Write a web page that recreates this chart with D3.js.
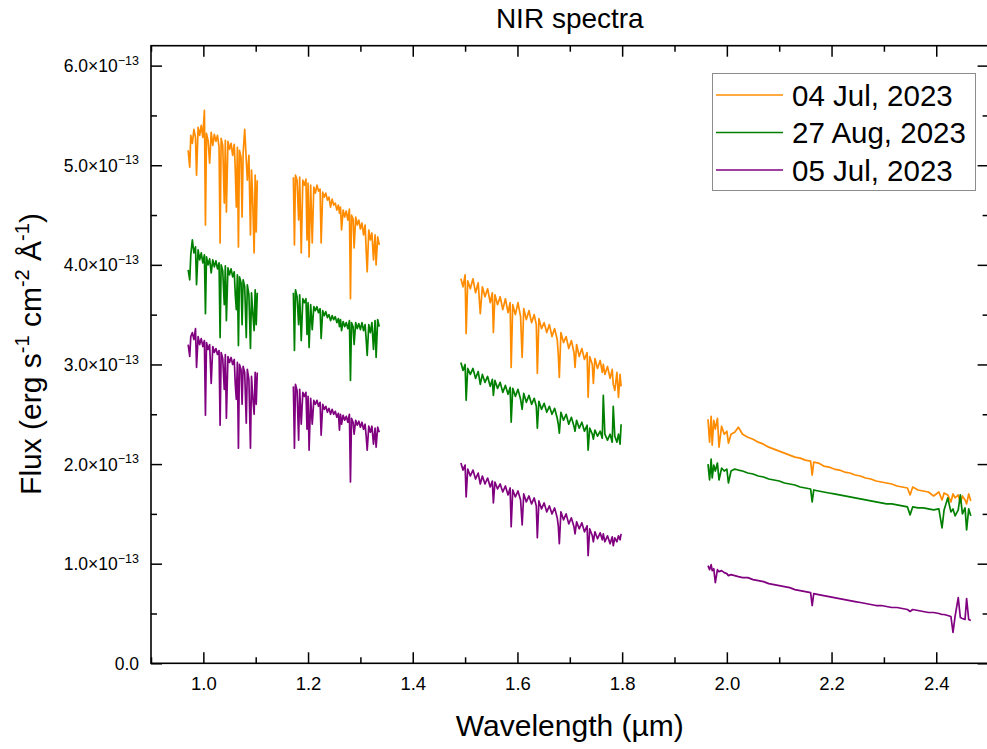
<!DOCTYPE html>
<html>
<head>
<meta charset="utf-8">
<script src="https://cdn.jsdelivr.net/npm/d3@7"></script>
<style>
  body { margin: 0; background: #fff; }
  svg { display: block; font-family: "Liberation Sans", Arial, sans-serif; }
</style>
</head>
<body>
<svg id="chart" width="987" height="749"></svg>
<script>
// Series names and colours (legend order)
var seriesNames = ["04 Jul, 2023", "27 Aug, 2023", "05 Jul, 2023"];
var seriesColors = ["#ff8c00", "#008000", "#800080"];

// Axis ticks
var xTicks = [1.0, 1.2, 1.4, 1.6, 1.8, 2.0, 2.2, 2.4];
var xMinorTicks = [0.9, 1.1, 1.3, 1.5, 1.7, 1.9, 2.1, 2.3, 2.5];
var yTicks = [0, 1, 2, 3, 4, 5, 6];          // units of 1e-13
var yMinorTicks = [0.5, 1.5, 2.5, 3.5, 4.5, 5.5];

// Wavelengths (um) for each of the four bands
var seg1Wave = [0.971, 0.974, 0.976, 0.979, 0.982, 0.985, 0.987, 0.990, 0.993, 0.996, 0.999, 1.002, 1.004, 1.006, 1.009, 1.012, 1.015, 1.018, 1.021, 1.024, 1.027, 1.030, 1.032, 1.034, 1.037, 1.040, 1.042, 1.044, 1.047, 1.050, 1.053, 1.056, 1.059, 1.061, 1.063, 1.065, 1.067, 1.069, 1.072, 1.074, 1.076, 1.079, 1.082, 1.084, 1.087, 1.090, 1.092, 1.094, 1.097, 1.099, 1.101, 1.103];
var seg2Wave = [1.172, 1.174, 1.176, 1.179, 1.182, 1.184, 1.187, 1.190, 1.193, 1.196, 1.198, 1.200, 1.202, 1.205, 1.208, 1.211, 1.214, 1.217, 1.220, 1.223, 1.225, 1.228, 1.231, 1.234, 1.237, 1.240, 1.243, 1.246, 1.249, 1.252, 1.255, 1.258, 1.260, 1.262, 1.264, 1.267, 1.270, 1.273, 1.276, 1.279, 1.281, 1.283, 1.286, 1.288, 1.291, 1.294, 1.297, 1.300, 1.303, 1.306, 1.309, 1.311, 1.313, 1.316, 1.319, 1.322, 1.325, 1.328, 1.330, 1.333, 1.336];
var seg3Wave = [1.492, 1.496, 1.500, 1.502, 1.505, 1.510, 1.515, 1.520, 1.525, 1.529, 1.533, 1.538, 1.543, 1.548, 1.552, 1.554, 1.557, 1.562, 1.567, 1.572, 1.577, 1.582, 1.586, 1.588, 1.591, 1.596, 1.601, 1.606, 1.609, 1.612, 1.617, 1.622, 1.627, 1.632, 1.636, 1.638, 1.641, 1.646, 1.651, 1.656, 1.661, 1.666, 1.671, 1.676, 1.678, 1.680, 1.683, 1.688, 1.693, 1.698, 1.703, 1.708, 1.710, 1.713, 1.718, 1.723, 1.728, 1.733, 1.735, 1.738, 1.743, 1.745, 1.748, 1.753, 1.758, 1.762, 1.764, 1.767, 1.772, 1.777, 1.781, 1.783, 1.786, 1.790, 1.793, 1.796, 1.798];
var seg4Wave = [1.964, 1.967, 1.970, 1.972, 1.975, 1.978, 1.982, 1.985, 1.990, 1.995, 2.000, 2.003, 2.008, 2.015, 2.022, 2.030, 2.040, 2.050, 2.060, 2.070, 2.080, 2.090, 2.100, 2.110, 2.120, 2.130, 2.140, 2.150, 2.160, 2.163, 2.166, 2.175, 2.185, 2.195, 2.205, 2.215, 2.225, 2.235, 2.245, 2.255, 2.265, 2.275, 2.285, 2.295, 2.305, 2.315, 2.325, 2.335, 2.345, 2.350, 2.355, 2.365, 2.375, 2.385, 2.395, 2.405, 2.411, 2.415, 2.422, 2.428, 2.432, 2.436, 2.442, 2.446, 2.450, 2.455, 2.458, 2.462, 2.466];

// Flux in units of 1e-13 erg s-1 cm-2 A-1
// 04 Jul, 2023
var jul04Seg1 = [5.15, 4.98, 5.30, 5.22, 5.36, 5.28, 4.90, 5.38, 5.30, 5.40, 5.28, 5.55, 4.40, 5.32, 5.25, 5.02, 5.33, 5.20, 5.31, 5.24, 5.30, 5.18, 4.22, 5.27, 5.20, 4.62, 5.25, 4.53, 5.24, 5.16, 5.22, 5.10, 5.21, 4.95, 4.58, 5.18, 4.18, 5.15, 5.08, 4.48, 5.12, 5.36, 5.05, 4.85, 5.10, 4.30, 4.95, 4.70, 4.12, 4.90, 4.33, 4.85];
var jul04Seg2 = [4.88, 4.20, 4.90, 4.85, 4.45, 4.88, 4.12, 4.85, 4.80, 4.86, 4.25, 4.82, 4.08, 4.80, 4.22, 4.78, 4.72, 4.80, 4.74, 4.76, 4.22, 4.73, 4.68, 4.72, 4.65, 4.68, 4.58, 4.66, 4.60, 4.62, 4.55, 4.60, 4.52, 4.58, 4.35, 4.55, 4.48, 4.54, 4.45, 4.56, 3.66, 4.50, 4.46, 4.17, 4.48, 4.40, 4.45, 4.36, 4.42, 4.30, 4.40, 4.15, 3.93, 4.35, 4.25, 4.32, 4.05, 4.30, 4.00, 4.28, 4.20];
var jul04Seg3 = [3.86, 3.78, 3.90, 3.31, 3.84, 3.76, 3.86, 3.72, 3.82, 3.51, 3.78, 3.68, 3.76, 3.62, 3.72, 3.32, 3.70, 3.60, 3.68, 3.55, 3.66, 3.52, 3.62, 2.97, 3.60, 3.50, 3.62, 3.48, 3.07, 3.56, 3.45, 3.54, 3.42, 3.50, 3.40, 2.91, 3.46, 3.36, 3.42, 3.32, 3.40, 3.28, 3.36, 3.25, 3.10, 2.87, 3.32, 3.22, 3.28, 3.16, 3.24, 3.12, 2.97, 3.20, 3.08, 3.16, 3.05, 3.12, 2.67, 3.08, 3.00, 2.81, 3.06, 2.96, 3.04, 2.92, 3.00, 2.90, 2.98, 2.86, 2.95, 2.80, 2.74, 2.92, 2.67, 2.90, 2.78];
var jul04Seg4 = [2.45, 2.22, 2.48, 2.19, 2.44, 2.35, 2.46, 2.17, 2.38, 2.30, 2.33, 2.21, 2.30, 2.32, 2.37, 2.30, 2.27, 2.25, 2.22, 2.20, 2.17, 2.15, 2.13, 2.11, 2.09, 2.07, 2.06, 2.04, 2.03, 1.89, 2.02, 2.01, 1.98, 1.97, 1.95, 1.94, 1.92, 1.91, 1.89, 1.88, 1.86, 1.85, 1.83, 1.82, 1.81, 1.80, 1.78, 1.77, 1.76, 1.69, 1.77, 1.74, 1.73, 1.72, 1.68, 1.72, 1.64, 1.71, 1.69, 1.62, 1.70, 1.66, 1.69, 1.61, 1.68, 1.64, 1.60, 1.70, 1.63];

// 27 Aug, 2023
var aug27Seg1 = [3.95, 3.85, 4.10, 4.25, 4.12, 4.18, 3.80, 4.15, 4.05, 4.12, 4.02, 4.10, 3.51, 4.08, 4.00, 4.06, 3.92, 4.05, 3.98, 4.04, 3.96, 4.02, 3.27, 4.00, 3.94, 3.60, 3.99, 3.44, 3.97, 3.90, 3.96, 3.88, 3.93, 3.70, 3.55, 3.90, 3.19, 3.88, 3.82, 3.40, 3.85, 3.78, 3.27, 3.80, 3.70, 3.16, 3.72, 3.55, 3.34, 3.75, 3.40, 3.72];
var aug27Seg2 = [3.72, 3.14, 3.75, 3.68, 3.40, 3.70, 3.24, 3.66, 3.62, 3.66, 3.30, 3.62, 3.17, 3.60, 3.35, 3.58, 3.54, 3.58, 3.52, 3.56, 3.26, 3.54, 3.49, 3.53, 3.47, 3.50, 3.44, 3.49, 3.45, 3.48, 3.42, 3.46, 3.38, 3.45, 3.34, 3.43, 3.38, 3.42, 3.36, 3.44, 2.84, 3.42, 3.38, 3.20, 3.42, 3.36, 3.41, 3.35, 3.42, 3.34, 3.40, 3.25, 3.09, 3.40, 3.32, 3.42, 3.15, 3.44, 3.07, 3.45, 3.38];
var aug27Seg3 = [3.02, 2.94, 3.00, 2.64, 2.96, 2.90, 2.96, 2.86, 2.93, 2.80, 2.90, 2.82, 2.88, 2.78, 2.85, 2.69, 2.84, 2.76, 2.82, 2.72, 2.79, 2.70, 2.77, 2.42, 2.76, 2.68, 2.75, 2.65, 2.55, 2.71, 2.62, 2.69, 2.60, 2.66, 2.58, 2.36, 2.63, 2.55, 2.61, 2.52, 2.58, 2.50, 2.56, 2.46, 2.40, 2.31, 2.52, 2.44, 2.50, 2.40, 2.47, 2.38, 2.33, 2.44, 2.36, 2.42, 2.33, 2.39, 2.14, 2.36, 2.30, 2.25, 2.34, 2.28, 2.33, 2.26, 2.69, 2.30, 2.24, 2.30, 2.22, 2.58, 2.28, 2.22, 2.30, 2.20, 2.40];
var aug27Seg4 = [2.00, 1.84, 2.05, 1.86, 1.99, 1.93, 2.01, 1.84, 1.96, 1.93, 1.95, 1.81, 1.93, 1.95, 1.94, 1.93, 1.91, 1.90, 1.88, 1.87, 1.85, 1.84, 1.83, 1.81, 1.80, 1.79, 1.77, 1.76, 1.75, 1.62, 1.74, 1.73, 1.72, 1.71, 1.70, 1.69, 1.68, 1.67, 1.66, 1.65, 1.64, 1.63, 1.62, 1.61, 1.60, 1.60, 1.59, 1.58, 1.57, 1.49, 1.57, 1.56, 1.56, 1.55, 1.54, 1.55, 1.36, 1.54, 1.66, 1.52, 1.55, 1.48, 1.54, 1.69, 1.50, 1.56, 1.34, 1.55, 1.48];

// 05 Jul, 2023
var jul05Seg1 = [3.20, 3.08, 3.28, 3.32, 3.25, 3.36, 2.97, 3.28, 3.20, 3.26, 3.18, 3.24, 2.49, 3.22, 3.15, 3.20, 2.81, 3.18, 3.12, 3.16, 3.10, 3.14, 2.39, 3.12, 3.06, 2.75, 3.10, 2.46, 3.08, 3.02, 3.07, 3.00, 3.05, 2.80, 2.65, 3.02, 2.16, 3.00, 2.95, 2.60, 2.98, 2.92, 2.41, 2.95, 2.85, 2.16, 2.88, 2.70, 2.50, 2.92, 2.60, 2.92];
var jul05Seg2 = [2.78, 2.16, 2.80, 2.74, 2.24, 2.75, 2.40, 2.72, 2.68, 2.72, 2.35, 2.68, 2.14, 2.66, 2.40, 2.64, 2.60, 2.64, 2.58, 2.62, 2.29, 2.60, 2.55, 2.58, 2.52, 2.56, 2.50, 2.55, 2.50, 2.53, 2.47, 2.51, 2.34, 2.50, 2.40, 2.49, 2.44, 2.48, 2.42, 2.50, 1.82, 2.46, 2.42, 2.30, 2.44, 2.39, 2.43, 2.37, 2.42, 2.35, 2.40, 2.28, 2.14, 2.38, 2.32, 2.38, 2.20, 2.36, 2.17, 2.37, 2.32];
var jul05Seg3 = [2.01, 1.94, 1.99, 1.67, 1.95, 1.88, 1.94, 1.85, 1.91, 1.80, 1.88, 1.80, 1.86, 1.77, 1.83, 1.61, 1.82, 1.75, 1.80, 1.72, 1.78, 1.69, 1.76, 1.37, 1.74, 1.67, 1.73, 1.64, 1.39, 1.70, 1.62, 1.68, 1.60, 1.66, 1.58, 1.26, 1.63, 1.55, 1.61, 1.52, 1.58, 1.50, 1.56, 1.46, 1.38, 1.20, 1.52, 1.44, 1.50, 1.40, 1.46, 1.37, 1.30, 1.42, 1.35, 1.41, 1.32, 1.38, 1.08, 1.35, 1.28, 1.22, 1.32, 1.25, 1.31, 1.24, 1.30, 1.22, 1.28, 1.20, 1.27, 1.18, 1.26, 1.22, 1.28, 1.24, 1.30];
var jul05Seg4 = [0.98, 0.94, 0.99, 0.93, 0.95, 0.81, 0.94, 0.92, 0.93, 0.91, 0.90, 0.88, 0.89, 0.88, 0.87, 0.86, 0.86, 0.84, 0.83, 0.82, 0.80, 0.79, 0.78, 0.77, 0.76, 0.74, 0.73, 0.72, 0.71, 0.58, 0.70, 0.69, 0.68, 0.67, 0.66, 0.65, 0.64, 0.63, 0.62, 0.61, 0.60, 0.59, 0.58, 0.58, 0.57, 0.56, 0.56, 0.55, 0.54, 0.52, 0.54, 0.53, 0.52, 0.51, 0.51, 0.50, 0.49, 0.49, 0.48, 0.47, 0.31, 0.47, 0.66, 0.46, 0.45, 0.44, 0.65, 0.44, 0.43];

var seriesFlux = [
  [jul04Seg1, jul04Seg2, jul04Seg3, jul04Seg4],
  [aug27Seg1, aug27Seg2, aug27Seg3, aug27Seg4],
  [jul05Seg1, jul05Seg2, jul05Seg3, jul05Seg4]
];
var segWaves = [seg1Wave, seg2Wave, seg3Wave, seg4Wave];

// Plot frame (named so they don't clash with window.top etc.)
var plotLeft = 151, plotRight = 988.6, plotTop = 45.7, plotBottom = 663.3;

var svg = d3.select("svg#chart");

var x = d3.scaleLinear().domain([0.9, 2.5]).range([plotLeft, plotRight]);
var y = d3.scaleLinear().domain([0, 6.2]).range([plotBottom, plotTop]);

// Spectra: one path per band per series
var line = d3.line()
  .x(d => x(d[0]))
  .y(d => y(d[1]));

var segData = [];
seriesFlux.forEach(function(segs, s) {
  segs.forEach(function(flux, k) {
    segData.push({
      color: seriesColors[s],
      pts: segWaves[k].map((w, i) => [w, flux[i]])
    });
  });
});

svg.append("g").selectAll("path.spec")
  .data(segData)
  .enter().append("path")
  .attr("class", "spec")
  .attr("fill", "none")
  .attr("stroke", d => d.color)
  .attr("stroke-width", 1.7)
  .attr("stroke-linejoin", "round")
  .attr("d", d => line(d.pts));

// Axes - ticks point inward on all four sides
function styleAxis(g) {
  g.select(".domain").remove();
  g.selectAll(".tick line").attr("stroke", "#000").attr("stroke-width", 1.5);
}

svg.append("g")
  .attr("transform", "translate(0," + plotBottom + ")")
  .call(d3.axisBottom(x).tickValues(xTicks).tickSize(-11).tickPadding(14).tickFormat(d3.format(".1f")))
  .call(styleAxis)
  .call(g => g.selectAll("text").attr("font-size", 18.5).attr("font-family", "Liberation Sans, Arial, sans-serif").attr("fill", "#000"));

svg.append("g")
  .attr("transform", "translate(0," + plotBottom + ")")
  .call(d3.axisBottom(x).tickValues(xMinorTicks).tickSize(-6).tickFormat(""))
  .call(styleAxis);

svg.append("g")
  .attr("transform", "translate(0," + plotTop + ")")
  .call(d3.axisTop(x).tickValues(xTicks).tickSize(-11).tickFormat(""))
  .call(styleAxis);

svg.append("g")
  .attr("transform", "translate(0," + plotTop + ")")
  .call(d3.axisTop(x).tickValues(xMinorTicks).tickSize(-6).tickFormat(""))
  .call(styleAxis);

var yAxisG = svg.append("g")
  .attr("transform", "translate(" + plotLeft + ",0)")
  .call(d3.axisLeft(y).tickValues(yTicks).tickSize(-11).tickPadding(12))
  .call(styleAxis);

svg.append("g")
  .attr("transform", "translate(" + plotLeft + ",0)")
  .call(d3.axisLeft(y).tickValues(yMinorTicks).tickSize(-6).tickFormat(""))
  .call(styleAxis);

svg.append("g")
  .attr("transform", "translate(" + plotRight + ",0)")
  .call(d3.axisRight(y).tickValues(yTicks).tickSize(-11).tickFormat(""))
  .call(styleAxis);

svg.append("g")
  .attr("transform", "translate(" + plotRight + ",0)")
  .call(d3.axisRight(y).tickValues(yMinorTicks).tickSize(-6).tickFormat(""))
  .call(styleAxis);

// y tick labels with the x10^-13 exponent as a superscript
yAxisG.selectAll(".tick").each(function(d) {
  var t = d3.select(this).select("text")
    .attr("font-size", 17.5)
    .attr("fill", "#000")
    .attr("x", -12)
    .attr("dy", "0.35em");
  if (d === 0) {
    t.text("0.0");
  } else {
    t.text(null);
    t.append("tspan").text(d3.format(".1f")(d) + "\u00d710");
    t.append("tspan").attr("font-size", 12.5).attr("dy", "-0.6em").text("\u221213");
  }
});

// Frame
svg.append("rect")
  .attr("x", plotLeft)
  .attr("y", plotTop)
  .attr("width", plotRight - plotLeft)
  .attr("height", plotBottom - plotTop)
  .attr("fill", "none")
  .attr("stroke", "#000")
  .attr("stroke-width", 1.6);

// Title and axis labels
svg.append("text")
  .attr("x", (plotLeft + plotRight) / 2)
  .attr("y", 28)
  .attr("text-anchor", "middle")
  .attr("font-size", 28)
  .text("NIR spectra");

svg.append("text")
  .attr("x", (plotLeft + plotRight) / 2)
  .attr("y", 736)
  .attr("text-anchor", "middle")
  .attr("font-size", 30)
  .text("Wavelength (\u00b5m)");

var yTitle = svg.append("text")
  .attr("transform", "translate(41,354) rotate(-90)")
  .attr("text-anchor", "middle")
  .attr("font-size", 30);
var yParts = [["Flux (erg s", 0], ["-1", 1], [" cm", 0], ["-2", 1], [" \u00c5", 0], ["-1", 1], [")", 0]];
yParts.forEach(function(p, i) {
  var ts = yTitle.append("tspan").text(p[0]);
  if (p[1]) ts.attr("font-size", 20).attr("dy", -12);
  else if (i > 0) ts.attr("dy", 12);
});

// Legend
var legend = svg.append("g");
legend.append("rect")
  .attr("x", 712.5)
  .attr("y", 73.5)
  .attr("width", 263)
  .attr("height", 117)
  .attr("fill", "#fff")
  .attr("stroke", "#8c8c8c")
  .attr("stroke-width", 1);

var rowY = [95, 132.5, 170];
var rows = legend.selectAll("g.row")
  .data(seriesNames)
  .enter().append("g")
  .attr("class", "row")
  .attr("transform", (d, i) => "translate(0," + rowY[i] + ")");

rows.append("line")
  .attr("x1", 716)
  .attr("x2", 783)
  .attr("stroke", (d, i) => seriesColors[i])
  .attr("stroke-width", 1.5);

rows.append("text")
  .attr("x", 792)
  .attr("dy", "0.36em")
  .attr("font-size", 29.5)
  .text(d => d);
</script>
</body>
</html>
